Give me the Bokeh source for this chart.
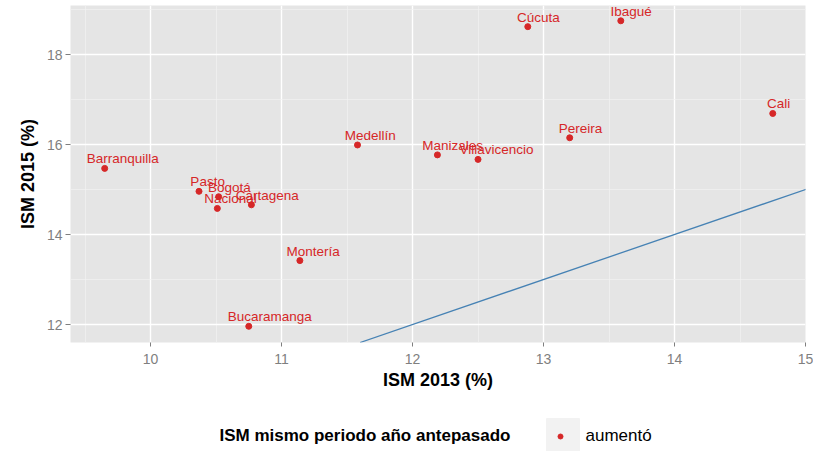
from bokeh.plotting import figure
from bokeh.models import ColumnDataSource, Range1d, FixedTicker, Slope
from bokeh.layouts import column
from bokeh.core.properties import value
from bokeh.embed import file_html
from bokeh.resources import INLINE

# ---- data ----
cities = ["Barranquilla", "Pasto", "Bogotá", "Nacional", "Cartagena", "Medellín",
          "Manizales", "Villavicencio", "Pereira", "Cúcuta", "Ibagué", "Cali",
          "Montería", "Bucaramanga"]
ism_2013 = [9.65, 10.37, 10.52, 10.51, 10.77, 11.58, 12.19, 12.50, 13.20, 12.88,
            13.59, 14.75, 11.14, 10.75]
ism_2015 = [15.47, 14.96, 14.84, 14.58, 14.66, 15.99, 15.77, 15.67, 16.15, 18.62,
            18.75, 16.69, 13.42, 11.96]
x_ticks = [10, 11, 12, 13, 14, 15]
x_minor = [9.5, 10.5, 11.5, 12.5, 13.5, 14.5]
y_ticks = [12, 14, 16, 18]
y_minor = [13, 15, 17, 19]
legend_title = "ISM mismo periodo año antepasado"
legend_label = "aumentó"

RED = "#D62728"
GREY_TXT = "#7F7F7F"
FONT = "Liberation Sans"

src = ColumnDataSource(dict(x=ism_2013, y=ism_2015, name=cities))

p = figure(frame_width=735, frame_height=337,
           x_range=Range1d(9.389, 15.0), y_range=Range1d(11.6, 19.09),
           output_backend="svg", toolbar_location=None,
           min_border_left=70, min_border_right=8, min_border_top=5,
           min_border_bottom=53,
           background_fill_color="#E5E5E5", border_fill_color="white",
           outline_line_color=None)

p.xaxis.ticker = FixedTicker(ticks=x_ticks, minor_ticks=x_minor)
p.yaxis.ticker = FixedTicker(ticks=y_ticks, minor_ticks=y_minor)

for ax in (p.xaxis[0], p.yaxis[0]):
    ax.axis_line_color = None
    ax.major_tick_line_color = GREY_TXT
    ax.major_tick_in = 0
    ax.minor_tick_in = 0
    ax.minor_tick_out = 0
    ax.major_label_text_font = FONT
    ax.major_label_text_font_size = "14px"
    ax.major_label_text_color = GREY_TXT
    ax.axis_label_text_font = FONT
    ax.axis_label_text_font_size = "18px"
    ax.axis_label_text_font_style = "bold"
    ax.axis_label_text_color = "black"

p.xaxis.axis_label = "ISM 2013 (%)"
p.yaxis.axis_label = "ISM 2015 (%)"
p.xaxis.major_tick_out = 4
p.yaxis.major_tick_out = 5
p.xaxis.major_label_standoff = 7
p.yaxis.major_label_standoff = 3
p.xaxis.axis_label_standoff = 3
p.yaxis.axis_label_standoff = 6

for g in (p.xgrid[0], p.ygrid[0]):
    g.grid_line_color = "white"
    g.grid_line_width = 1.4
    g.minor_grid_line_color = "#F2F2F2"
    g.minor_grid_line_width = 0.7

p.add_layout(Slope(gradient=1, y_intercept=0, line_color="#4682B4", line_width=1.3))

p.scatter("x", "y", source=src, size=6, color=RED)
p.text("x", "y", text="name", source=src, text_color=RED,
       text_font=value(FONT), text_font_size="13.5px",
       anchor=value((0.25, "bottom")), y_offset=-2)

# ---- legend as its own strip (frame aligned with the main plot) ----
leg = figure(frame_width=735, frame_height=56,
             x_range=Range1d(70, 805), y_range=Range1d(0, 56),
             output_backend="svg", toolbar_location=None,
             min_border_left=70, min_border_right=8, min_border_top=0,
             min_border_bottom=0, outline_line_color=None,
             background_fill_color="white", border_fill_color="white",
             x_axis_location=None, y_axis_location=None)
leg.xgrid.visible = False
leg.ygrid.visible = False
leg.text(x=[219], y=[16], text=[legend_title], text_font=value(FONT),
         text_font_size="17px", text_font_style="bold", text_color="black",
         text_align="left", text_baseline="middle")
leg.quad(left=[546], right=[579], top=[33], bottom=[-5], color="#F2F2F2")
leg.scatter(x=[560], y=[15], size=5, color=RED)
leg.text(x=[585], y=[16], text=[legend_label], text_font=value(FONT),
         text_font_size="17px", text_color="black",
         text_align="left", text_baseline="middle")

layout = column(p, leg, spacing=0)
open("out.html", "w").write(file_html(layout, INLINE))
